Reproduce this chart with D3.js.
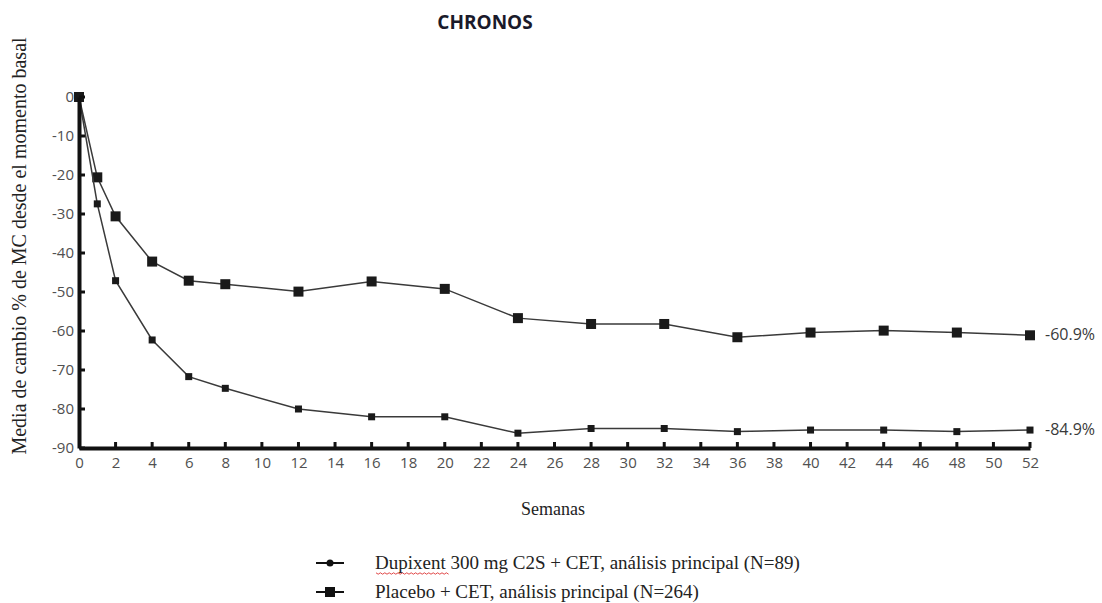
<!DOCTYPE html>
<html><head><meta charset="utf-8">
<script src="https://cdn.jsdelivr.net/npm/d3@7"></script>
<style>body{margin:0;background:#fff}</style>
</head><body>
<svg id="c" width="1102" height="603"></svg>
<script>
const weeks = [0,1,2,4,6,8,12,16,20,24,28,32,36,40,44,48,52];
const placebo = [0,-20.6,-30.6,-42.2,-47.1,-48.0,-49.9,-47.3,-49.2,-56.7,-58.2,-58.2,-61.6,-60.4,-59.9,-60.4,-61.1];
const dupixent = [0,-27.4,-47.1,-62.3,-71.7,-74.7,-80.0,-82.0,-82.0,-86.2,-85.0,-85.0,-85.8,-85.4,-85.4,-85.8,-85.4];
const endLabels = ["-60.9%","-84.9%"];
const xTicks = d3.range(0,53,2);
const yTicks = d3.range(0,-91,-10);
const title = "CHRONOS";
const xTitle = "Semanas";
const yTitle = "Media de cambio % de MC desde el momento basal";
const legendLabels = ["Dupixent 300 mg C2S + CET, análisis principal (N=89)","Placebo + CET, análisis principal (N=264)"];

const svg = d3.select("#c");
const x = d3.scaleLinear().domain([0,52]).range([79,1030]);
const y = d3.scaleLinear().domain([0,-90]).range([97,448]);
const tickCol = "#505050";
const sans = "'Open Sans', sans-serif";
const serif = "'Liberation Serif', serif";

// lines
const line = d3.line().x((d,i)=>x(weeks[i])).y(d=>y(d));
function series(vals, size){
  svg.append("path").datum(vals).attr("d",line).attr("fill","none").attr("stroke","#3a3a3a").attr("stroke-width",1.5);
  svg.append("g").selectAll("rect").data(vals).join("rect")
    .attr("x",(d,i)=>x(weeks[i])-size/2).attr("y",d=>y(d)-size/2)
    .attr("width",size).attr("height",size).attr("fill","#1a1a1a");
}
series(placebo, 10);
series(dupixent, 7);

// axes
const fmt = d => String(d);
const xAxis = svg.append("g").attr("transform",`translate(0,${y(-90)})`)
  .call(d3.axisBottom(x).tickValues(xTicks).tickFormat(fmt).tickSize(0).tickPadding(9));
xAxis.select(".domain").attr("stroke","#111").attr("stroke-width",4);
xAxis.selectAll("text").attr("font-family",sans).attr("font-size",15).attr("fill",tickCol);
svg.append("g").selectAll("line").data(xTicks.filter(d=>d>0)).join("line")
  .attr("x1",d=>x(d)).attr("x2",d=>x(d)).attr("y1",y(-90)).attr("y2",y(-90)-6)
  .attr("stroke","#111").attr("stroke-width",3);

const yAxis = svg.append("g").attr("transform",`translate(${x(0)},0)`)
  .call(d3.axisLeft(y).tickValues(yTicks).tickFormat(fmt).tickSize(0).tickPadding(5));
yAxis.select(".domain").attr("stroke","#111").attr("stroke-width",4);
yAxis.selectAll("text").attr("font-family",sans).attr("font-size",15).attr("fill",tickCol);
svg.append("g").selectAll("line").data(yTicks).join("line")
  .attr("x1",x(0)).attr("x2",x(0)+6).attr("y1",d=>y(d)).attr("y2",d=>y(d))
  .attr("stroke","#111").attr("stroke-width",3);

// end labels
[placebo, dupixent].forEach((s,k)=>{
  svg.append("text").attr("x",x(52)+15).attr("y",y(s[s.length-1])+5)
    .attr("font-family",sans).attr("font-size",16).attr("fill","#3a3a3a").text(endLabels[k]);
});

// titles
svg.append("text").attr("x",485).attr("y",29).attr("text-anchor","middle")
  .attr("font-family",sans).attr("font-weight","bold").attr("font-size",19).attr("fill","#1a1a2a").text(title);
svg.append("text").attr("x",553).attr("y",515).attr("text-anchor","middle")
  .attr("font-family",serif).attr("font-size",18).attr("fill","#222").text(xTitle);
svg.append("text").attr("transform","translate(26,246) rotate(-90)").attr("text-anchor","middle")
  .attr("font-family",serif).attr("font-size",20).attr("fill","#222").text(yTitle);

// legend
const lg = svg.append("g");
legendLabels.forEach((t,i)=>{
  const ly = 563 + i*29;
  lg.append("line").attr("x1",316).attr("x2",344).attr("y1",ly).attr("y2",ly).attr("stroke","#111").attr("stroke-width",2);
  if(i===0) lg.append("circle").attr("cx",330).attr("cy",ly).attr("r",3.5).attr("fill","#111");
  else lg.append("rect").attr("x",325).attr("y",ly-5).attr("width",10).attr("height",10).attr("fill","#111");
  lg.append("text").attr("x",375).attr("y",ly+6).attr("font-family",serif)
    .attr("font-size",19).attr("fill","#222").text(t);
});
// spell-check underline under "Dupixent"
const wz = d3.range(0,34).map(i=>[376+i*2.2, 573 + (i%2?1.2:-0.2)]);
lg.append("path").attr("d",d3.line()(wz)).attr("fill","none").attr("stroke","#d33").attr("stroke-width",0.9);
</script>
</body></html>
